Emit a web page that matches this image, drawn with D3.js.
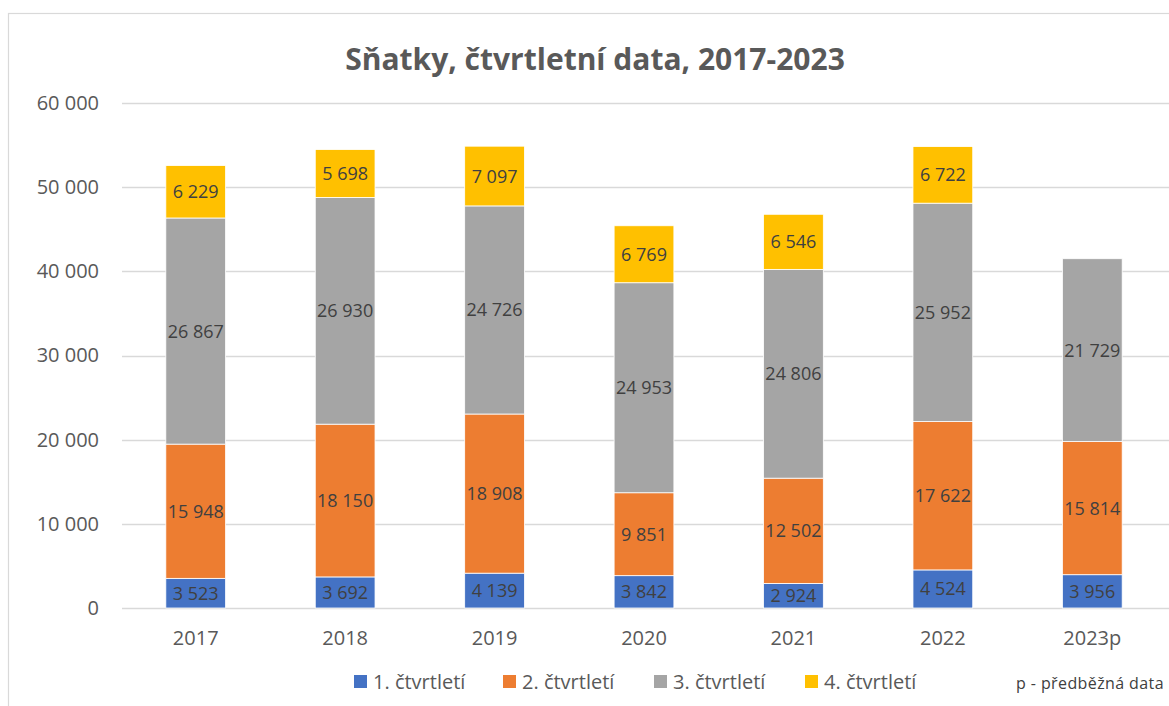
<!DOCTYPE html>
<html>
<head>
<meta charset="utf-8">
<title>Sňatky</title>
<script src="https://cdnjs.cloudflare.com/ajax/libs/d3/7.8.5/d3.min.js"></script>
<style>
  body { margin: 0; background: #fff; }
  text { font-family: "Open Sans", sans-serif; }
</style>
</head>
<body>
<svg id="chart" width="1169" height="706"></svg>
<script>
// data
var years = ["2017", "2018", "2019", "2020", "2021", "2022", "2023p"];
var q1 = [3523, 3692, 4139, 3842, 2924, 4524, 3956];
var q2 = [15948, 18150, 18908, 9851, 12502, 17622, 15814];
var q3 = [26867, 26930, 24726, 24953, 24806, 25952, 21729];
var q4 = [6229, 5698, 7097, 6769, 6546, 6722, null];
var seriesNames = ["1. čtvrtletí", "2. čtvrtletí", "3. čtvrtletí", "4. čtvrtletí"];
var colors = ["#4472c4", "#ed7d31", "#a5a5a5", "#ffc000"];
var yTicks = [0, 10000, 20000, 30000, 40000, 50000, 60000];

var svg = d3.select("#chart");
var W = 1169, H = 706;

// outer frame (cut off at right and bottom)
svg.append("rect").attr("x", 8.5).attr("y", 13.5)
  .attr("width", W + 20).attr("height", H + 20)
  .attr("fill", "none").attr("stroke", "#d9d9d9").attr("stroke-width", 1.2);

var x = d3.scaleBand().domain(years).range([121, 1167]).paddingInner(0.6).paddingOuter(0.3);
var y = d3.scaleLinear().domain([0, 60000]).range([608, 103]);

var fmt = function (v) { return d3.format(",")(v).replace(/,/g, " "); };

// gridlines
svg.append("g").selectAll("line").data(yTicks).join("line")
  .attr("x1", 122).attr("x2", W)
  .attr("y1", function (d) { return Math.round(y(d)) + 0.5; })
  .attr("y2", function (d) { return Math.round(y(d)) + 0.5; })
  .attr("stroke", "#d9d9d9").attr("stroke-width", 1.3);

// y axis labels
var yAxis = d3.axisLeft(y).tickValues(yTicks).tickFormat(fmt).tickSize(0).tickPadding(0);
var gy = svg.append("g").attr("transform", "translate(99,0)").call(yAxis);
gy.select(".domain").remove();
gy.selectAll("text").attr("fill", "#595959").style("font-size", "20px")
  .style("font-family", "'Open Sans', sans-serif");

// x axis labels
var xAxis = d3.axisBottom(x).tickSize(0).tickPadding(0);
var gx = svg.append("g").attr("transform", "translate(0,631)").call(xAxis);
gx.select(".domain").remove();
gx.selectAll("text").attr("fill", "#595959").style("font-size", "20px")
  .style("font-family", "'Open Sans', sans-serif");

// stacked data
var rows = years.map(function (yr, i) {
  return { year: yr, s0: q1[i], s1: q2[i], s2: q3[i], s3: q4[i] || 0 };
});
var stack = d3.stack().keys(["s0", "s1", "s2", "s3"]);
var layers = stack(rows);

var gBars = svg.append("g");
layers.forEach(function (layer, li) {
  var g = gBars.append("g");
  var segs = layer.filter(function (d) { return d[1] - d[0] > 0; });
  g.selectAll("rect").data(segs).join("rect")
    .attr("x", function (d) { return x(d.data.year); })
    .attr("width", x.bandwidth())
    .attr("y", function (d) { return y(d[1]); })
    .attr("height", function (d) { return y(d[0]) - y(d[1]); })
    .attr("fill", colors[li])
    .attr("stroke", "#fff").attr("stroke-width", 0.8);
  g.selectAll("text").data(segs).join("text")
    .attr("x", function (d) { return x(d.data.year) + x.bandwidth() / 2; })
    .attr("y", function (d) { return (y(d[0]) + y(d[1])) / 2; })
    .attr("dy", "0.36em")
    .attr("text-anchor", "middle")
    .attr("fill", "#404040")
    .style("font-size", "18px")
    .text(function (d) { return fmt(d[1] - d[0]); });
});

// title
svg.append("text").attr("x", 595).attr("y", 70)
  .attr("text-anchor", "middle").attr("fill", "#595959")
  .style("font-size", "30px").style("font-weight", "bold")
  .text("Sňatky, čtvrtletní data, 2017-2023");

// legend
var legX = [354, 503, 654, 805];
var leg = svg.append("g").selectAll("g").data(seriesNames).join("g")
  .attr("transform", function (d, i) { return "translate(" + legX[i] + ",682)"; });
leg.append("rect").attr("x", 0).attr("y", -7).attr("width", 13).attr("height", 13)
  .attr("fill", function (d, i) { return colors[i]; });
leg.append("text").attr("x", 19).attr("dy", "0.35em")
  .attr("fill", "#595959").style("font-size", "20px")
  .text(function (d) { return d; });

svg.append("text").attr("x", 1164).attr("y", 683).attr("dy", "0.35em")
  .attr("text-anchor", "end").attr("fill", "#404040")
  .style("font-size", "16px").style("letter-spacing", "0.4px")
  .text("p - předběžná data");
</script>
</body>
</html>
